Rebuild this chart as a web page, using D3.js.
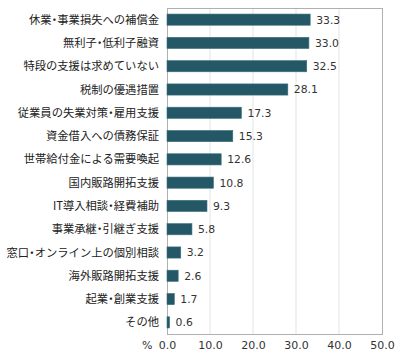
<!DOCTYPE html>
<html><head><meta charset="utf-8">
<script src="https://cdn.jsdelivr.net/npm/d3@7"></script>
<style>body{margin:0;background:#fff}svg{display:block}.nd{font-feature-settings:"palt" 1}</style>
</head><body>
<script>
const categories = ["休業・事業損失への補償金","無利子・低利子融資","特段の支援は求めていない","税制の優遇措置","従業員の失業対策・雇用支援","資金借入への債務保証","世帯給付金による需要喚起","国内販路開拓支援","IT導入相談・経費補助","事業承継・引継ぎ支援","窓口・オンライン上の個別相談","海外販路開拓支援","起業・創業支援","その他"];
const values = [33.3,33.0,32.5,28.1,17.3,15.3,12.6,10.8,9.3,5.8,3.2,2.6,1.7,0.6];
const xTicks = [0,10,20,30,40,50];
const unitLabel = "%";

const W=400,H=355;
const m={left:167,right:18,top:8,bottom:21};
const svg=d3.select("body").append("svg").attr("width",W).attr("height",H);
const x=d3.scaleLinear().domain([0,50]).range([m.left,W-m.right]);
const y=d3.scaleBand().domain(categories).range([m.top,H-m.bottom]).paddingInner(0.52).paddingOuter(0.26);
const font="'Noto Sans CJK JP','DejaVu Sans',sans-serif";

// gridlines
svg.append("g").selectAll("line").data(xTicks.slice(1,-1)).join("line")
 .attr("x1",d=>x(d)).attr("x2",d=>x(d)).attr("y1",m.top).attr("y2",H-m.bottom)
 .attr("stroke","#e3e3e3").attr("stroke-width",1);
// frame
svg.append("rect").attr("x",m.left+0.5).attr("y",m.top+0.5).attr("width",x(50)-m.left).attr("height",H-m.bottom-m.top)
 .attr("fill","none").attr("stroke","#b0b0b0");

svg.append("g").selectAll("rect").data(values).join("rect")
 .attr("x",x(0)).attr("y",(d,i)=>y(categories[i]))
 .attr("width",d=>x(d)-x(0)).attr("height",y.bandwidth())
 .attr("fill","#245866").attr("stroke","#3c6f7c").attr("stroke-width",0.6);

svg.append("g").selectAll("text").data(values).join("text")
 .attr("x",d=>x(d)+6).attr("y",(d,i)=>y(categories[i])+y.bandwidth()/2)
 .attr("dy","0.36em").attr("font-family","'DejaVu Sans',sans-serif").attr("font-size",10.8).attr("fill","#333")
 .text(d=>d.toFixed(1));

// y labels (narrow middle dot via proportional alternates)
const lab=svg.append("g").selectAll("text").data(categories).join("text")
 .attr("x",m.left-8).attr("y",d=>y(d)+y.bandwidth()/2).attr("dy","0.36em")
 .attr("text-anchor","end").attr("font-family",font).attr("font-size",11.3).attr("fill","#222");
lab.each(function(d){
  const t=d3.select(this);
  d.split(/(・)/).filter(s=>s.length).forEach(p=>{
    const ts=t.append("tspan").text(p);
    if(p==="・") ts.attr("class","nd");
  });
});

// x axis
const xa=svg.append("g").attr("transform",`translate(0,${H-m.bottom})`)
 .call(d3.axisBottom(x).tickValues(xTicks).tickSize(0).tickPadding(7).tickFormat(d3.format(".1f")));
xa.select(".domain").remove();
xa.selectAll("text").attr("font-family","'DejaVu Sans',sans-serif").attr("font-size",11).attr("fill","#333");
svg.append("text").attr("x",142).attr("y",H-m.bottom+7).attr("dy","0.71em")
 .attr("font-family","'DejaVu Sans',sans-serif").attr("font-size",11).attr("fill","#333").text(unitLabel);
</script>
</body></html>
